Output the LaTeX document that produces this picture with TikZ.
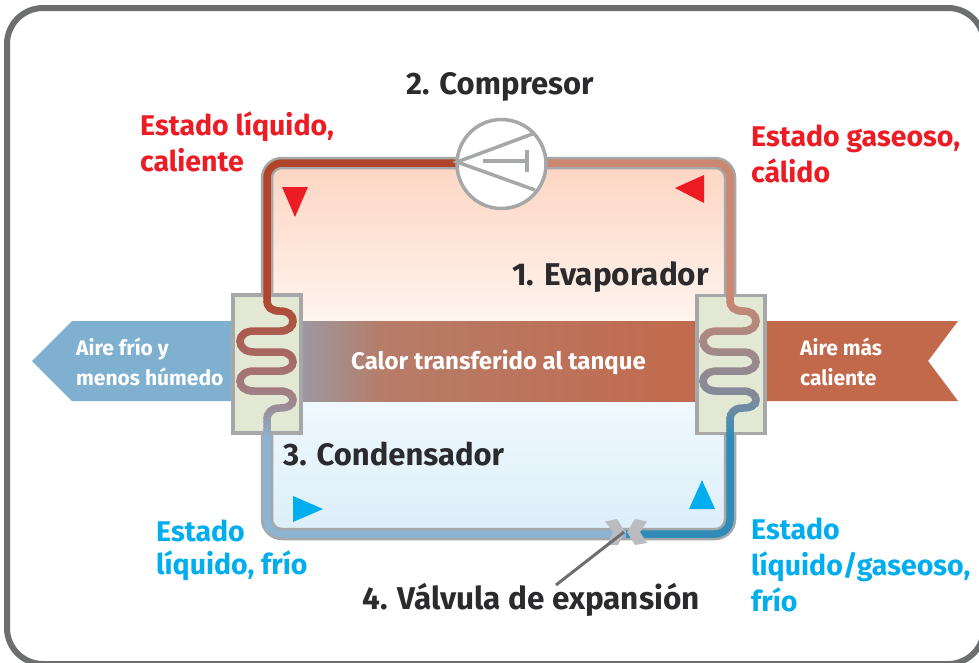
\documentclass[tikz,border=0pt]{standalone}
\usepackage{fontspec}
\setmainfont{Fira Sans}
\usetikzlibrary{arrows,positioning}

\definecolor{framegray}{HTML}{6D6E70}
\definecolor{shellgray}{HTML}{A5A7A9}
\definecolor{valvegray}{HTML}{BBBCC0}
\definecolor{hotred}{HTML}{ED1C24}
\definecolor{coldcyan}{HTML}{00AEEF}
\definecolor{inktext}{HTML}{2B2B2D}
\definecolor{pipered}{HTML}{B0452C}
\definecolor{pipewarm}{HTML}{CB8770}
\definecolor{pipedeep}{HTML}{2F8CB8}
\definecolor{pipepale}{HTML}{8CB3D1}
\definecolor{coilmidl}{HTML}{A0828A}
\definecolor{coilmidr}{HTML}{7F8A9C}
\definecolor{airblue}{HTML}{7FB0CF}
\definecolor{airbrown}{HTML}{C2694C}
\definecolor{bandgray}{HTML}{9A9AA4}
\definecolor{bandmid}{HTML}{B67D69}
\definecolor{fieldhot}{HTML}{FDD5C2}
\definecolor{fieldwarm}{HTML}{FFF6F1}
\definecolor{fieldpale}{HTML}{F0F9FE}
\definecolor{fieldcold}{HTML}{DCEEF9}
\definecolor{hxgreen}{HTML}{E2E8D4}

\tikzset{
	pipeshell/.style={draw=shellgray,line width=12.5pt,line join=round},
	pipecore/.style={line width=7.5pt,rounded corners=15pt},
	hxbox/.style={draw=shellgray,fill=hxgreen,line width=3.5pt},
	compline/.style={draw=shellgray,line width=3.5pt},
	bigtag/.style={font=\fontsize{28.5}{36}\selectfont\bfseries,align=left,anchor=west,inner sep=0pt},
	inktag/.style={font=\fontsize{31.5}{36}\selectfont\bfseries,text=inktext,anchor=west,inner sep=0pt},
	airtag/.style={font=\fontsize{21}{30}\selectfont\bfseries,text=white,align=left,anchor=west,inner sep=0pt}
}

\begin{document}
\begin{tikzpicture}[x=1pt,y=-1pt]
	\useasboundingbox (0,0) rectangle (979,662);
	\draw[draw=framegray,line width=6pt,fill=white,rounded corners=36pt] (7,8) rectangle (984,664);

	% evaporator and condenser fields
	\fill[top color=fieldhot,bottom color=fieldwarm,rounded corners=15pt] (267,163) -- (730,163) -- (730,330) -- (267,330) -- cycle;
	\fill[top color=fieldpale,bottom color=fieldcold,rounded corners=15pt] (267,395) -- (730,395) -- (730,534) -- (267,534) -- cycle;

	% refrigerant loop
	\draw[pipeshell,rounded corners=15pt] (267,163) rectangle (730,534);
	\draw[pipecore,draw=pipered] (267,300) -- (267,163) -- (460,163);
	\draw[pipecore,draw=pipewarm] (540,163) -- (730,163) -- (730,300);
	\draw[pipecore,draw=pipedeep] (730,430) -- (730,534) -- (626,534);
	\draw[pipecore,draw=pipepale] (626,534) -- (267,534) -- (267,430);

	% air stream
	\fill[left color=bandgray,right color=bandmid] (297,321) rectangle (381,401);
	\fill[left color=bandmid,right color=airbrown] (380,321) rectangle (700,401);
	\fill[airblue] (32,361) -- (72,321) -- (235,321) -- (235,401) -- (72,401) -- cycle;
	\fill[airbrown] (763,321) -- (958,321) -- (928,361) -- (958,401) -- (763,401) -- cycle;

	% heat exchangers
	\node[hxbox,minimum width=68pt,minimum height=138pt,inner sep=0pt] (hxleft) at (267,364) {};
	\node[hxbox,minimum width=68pt,minimum height=138pt,inner sep=0pt] (hxright) at (731,364.5) {};
	\def\coil{(267,293) -- (267,300) .. controls (267,308) and (272,311) .. (280,311) .. controls (288,311) and (293,315) .. (293,321) .. controls (293,327) and (288,331) .. (280,331) -- (254,331) .. controls (245,331) and (240,336) .. (240,341) .. controls (240,347) and (245,352) .. (254,352) -- (280,352) .. controls (288,352) and (293,356) .. (293,362) .. controls (293,367) and (288,371) .. (280,371) -- (254,371) .. controls (245,371) and (240,376) .. (240,381) .. controls (240,387) and (245,391) .. (254,391) -- (280,391) .. controls (288,391) and (293,395) .. (293,400) .. controls (293,405) and (288,408) .. (280,408) .. controls (272,408) and (267,412) .. (267,420) -- (267,436)}
	\foreach \dx/\ctop/\cmid/\cbot in {0/pipered/coilmidl/pipepale,463/pipewarm/coilmidr/pipedeep}
		\foreach \i in {0,...,36} {
			\pgfmathsetmacro\pa{min(100,\i*100/26)}
			\pgfmathsetmacro\pb{max(0,(\i-26)*100/10)}
			\colorlet{coiltop}{\cmid!\pa!\ctop}
			\colorlet{coiltint}{\cbot!\pb!coiltop}
			\begin{scope}[xshift=\dx pt]
				\clip (230,{293+4*\i}) rectangle (305,{298+4*\i});
				\draw[draw=coiltint,line width=7.5pt] \coil;
			\end{scope}
		}

	% compressor
	\node[circle,draw=shellgray,fill=white,line width=3.5pt,minimum size=89pt,inner sep=0pt] (comp) at (501.5,164) {};
	\coordinate (compapex) at (457,162);
	\coordinate (compup) at (535,133);
	\coordinate (complow) at (535,190);
	\coordinate (stemend) at (483,161);
	\coordinate (stemhead) at (527,161);
	\draw[compline] (compup) -- (compapex) -- (complow);
	\draw[compline] (stemend) -- (stemhead);
	\draw[compline] (527,150) -- (527,172);

	% flow direction
	\fill[hotred] (282,187) -- (308,187) -- (295,217) -- cycle;
	\fill[hotred] (675,188) -- (704,175) -- (704,203) -- cycle;
	\fill[coldcyan] (293,496) -- (323,509) -- (293,522) -- cycle;
	\fill[coldcyan] (702,480) -- (715,509) -- (689,509) -- cycle;

	% expansion valve
	\fill[valvegray] (605,521.5) -- (617,519) -- (625,532) -- (618,545) -- (607,545) -- (613,532) -- cycle;
	\fill[valvegray] (647,521.5) -- (635,519) -- (627,532) -- (635,545) -- (647,543) -- (640,532) -- cycle;

	% labels
	\node[inktag,font=\fontsize{31}{36}\selectfont\bfseries] (compresor) at (406,87) {2. Compresor};
	\node[inktag] (evaporador) at (512,277) {1. Evaporador};
	\node[inktag,font=\fontsize{31}{36}\selectfont\bfseries] (condensador) at (283,454) {3. Condensador};
	\node[inktag] (valvula) at (362,600) {4. Válvula de expansión};
	\node[bigtag,text=hotred] (hotliquid) at (140,142) {Estado líquido,\\caliente};
	\node[bigtag,text=hotred] (warmgas) at (751,154) {Estado gaseoso,\\cálido};
	\node[bigtag,text=coldcyan] (coldliquid) at (156,550) {Estado\\[-3pt]líquido, frío};
	\node[bigtag,text=coldcyan] (coldmix) at (751,565) {Estado\\líquido/gaseoso,\\frío};
	\node[airtag] (airout) at (76,362) {Aire frío y\\menos húmedo};
	\node[airtag] (airin) at (800,362) {Aire más\\caliente};
	\node[airtag,font=\fontsize{24}{28}\selectfont\bfseries] (heat) at (351,362) {Calor transferido al tanque};

	\coordinate (valve) at (624,532);
	\coordinate (valvefoot) at (556,585);
	\draw[draw=framegray,line width=3pt] (valve) -- (valvefoot);
\end{tikzpicture}
\end{document}
